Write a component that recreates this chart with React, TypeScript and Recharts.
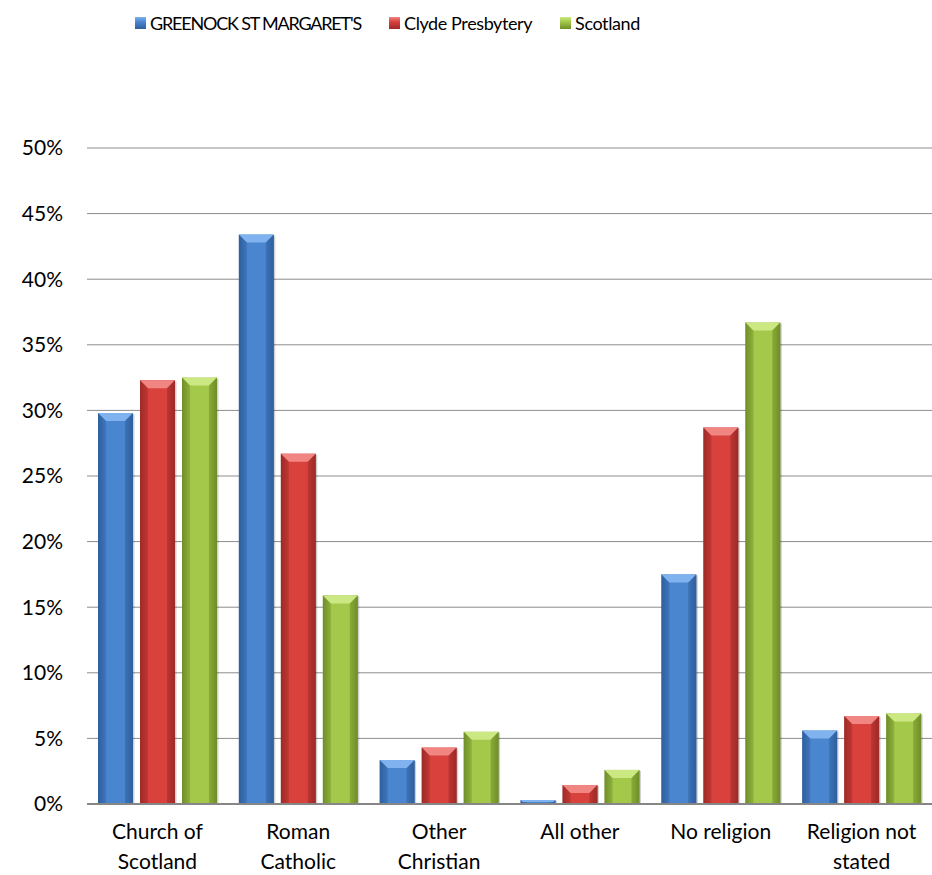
import React from 'react';
import { BarChart, Bar, XAxis, YAxis, CartesianGrid, Legend } from 'recharts';

const categories = [
  'Church of Scotland',
  'Roman Catholic',
  'Other Christian',
  'All other',
  'No religion',
  'Religion not stated',
];

// how each category label wraps under the axis
const tickLines: string[][] = [
  ['Church of', 'Scotland'],
  ['Roman', 'Catholic'],
  ['Other', 'Christian'],
  ['All other'],
  ['No religion'],
  ['Religion not', 'stated'],
];

const greenock = [29.8, 43.4, 3.35, 0.3, 17.5, 5.6];
const clyde = [32.3, 26.7, 4.3, 1.45, 28.7, 6.7];
const scotland = [32.5, 15.9, 5.5, 2.6, 36.7, 6.9];

const yTicks = [0, 5, 10, 15, 20, 25, 30, 35, 40, 45, 50];

const seriesInfo = [
  { key: 'greenock', name: "GREENOCK ST MARGARET'S", dark: '#2f5f9e', mid: '#4a86cf', light: '#7fb2ee' },
  { key: 'clyde', name: 'Clyde Presbytery', dark: '#9e2a27', mid: '#d9413d', light: '#f08582' },
  { key: 'scotland', name: 'Scotland', dark: '#6f8e28', mid: '#a3c84a', light: '#cbe882' },
];

const data = categories.map((c, i) => ({
  name: c,
  greenock: greenock[i],
  clyde: clyde[i],
  scotland: scotland[i],
}));

const FONT = 'Lato, "Open Sans", sans-serif';

function makeShape(idx: number) {
  const s = seriesInfo[idx];
  return (props: any) => {
    const { x, y, width, height } = props;
    if (!height || height <= 0) return null;
    const bevel = Math.min(8, height / 2, width / 4);
    return (
      <g>
        <rect x={x + 1.5} y={y + 1} width={width} height={height} fill="rgba(0,0,0,0.18)" />
        <rect x={x} y={y} width={width} height={height} fill={`url(#body-${s.key})`} />
        <polygon
          points={`${x},${y} ${x + width},${y} ${x + width - bevel},${y + bevel} ${x + bevel},${y + bevel}`}
          fill={s.light}
        />
        <polygon
          points={`${x},${y} ${x + bevel},${y + bevel} ${x + bevel},${y + height} ${x},${y + height}`}
          fill={s.dark}
          opacity={0.35}
        />
        <polygon
          points={`${x + width},${y} ${x + width - bevel},${y + bevel} ${x + width - bevel},${y + height} ${x + width},${y + height}`}
          fill={s.dark}
          opacity={0.45}
        />
      </g>
    );
  };
}

const XTick = (props: any) => {
  const { x, payload } = props;
  const lines = tickLines[payload.index] || [payload.value];
  return (
    <g>
      {lines.map((l, i) => (
        <text
          key={i}
          x={x}
          y={839 + i * 30}
          textAnchor="middle"
          fontFamily={FONT}
          fontSize={21}
          fill="#000"
        >
          {l}
        </text>
      ))}
    </g>
  );
};

const LegendContent = () => (
  <div
    style={{
      height: 40,
      display: 'flex',
      justifyContent: 'flex-start',
      alignItems: 'center',
      paddingLeft: 135,
      fontFamily: FONT,
      fontSize: 18,
      color: '#000',
    }}
  >
    {seriesInfo.map((s, i) => (
      <div key={s.key} style={{ display: 'flex', alignItems: 'center', marginRight: 28 }}>
        <div
          style={{
            width: 11,
            height: 12,
            marginRight: 4,
            background: `linear-gradient(to bottom, ${s.light} 0%, ${s.mid} 40%, ${s.dark} 100%)`,
          }}
        />
        <span style={{ letterSpacing: i === 0 ? -1.2 : -0.4 }}>{s.name}</span>
      </div>
    ))}
  </div>
);

export default function App() {
  return (
    <div style={{ position: 'absolute', left: 0, top: 0, background: '#fff' }}>
      <BarChart
        width={932}
        height={875}
        data={data}
        margin={{ top: 108, right: 0, bottom: 0, left: 0 }}
        barCategoryGap={11}
        barGap={7}
      >
        <defs>
          {seriesInfo.map((s) => (
            <linearGradient key={s.key} id={`body-${s.key}`} x1="0" y1="0" x2="1" y2="0">
              <stop offset="0%" stopColor={s.dark} />
              <stop offset="25%" stopColor={s.mid} />
              <stop offset="75%" stopColor={s.mid} />
              <stop offset="100%" stopColor={s.dark} />
            </linearGradient>
          ))}
        </defs>
        <CartesianGrid vertical={false} stroke="#8c8c8c" strokeWidth={1} />
        <XAxis
          dataKey="name"
          height={71}
          interval={0}
          tickLine={false}
          axisLine={{ stroke: '#868686', strokeWidth: 2 }}
          tick={<XTick />}
        />
        <YAxis
          width={87}
          domain={[0, 50]}
          ticks={yTicks}
          tickFormatter={(v: number) => `${v}%`}
          axisLine={false}
          tickLine={false}
          tickMargin={18}
          tick={{ fontFamily: FONT, fontSize: 21, fill: '#000' }}
        />
        <Legend
          verticalAlign="top"
          content={<LegendContent />}
          wrapperStyle={{ top: 3, left: 0, width: 932 }}
        />
        {seriesInfo.map((s, i) => (
          <Bar
            key={s.key}
            dataKey={s.key}
            name={s.name}
            fill={s.mid}
            shape={makeShape(i)}
            isAnimationActive={false}
          />
        ))}
      </BarChart>
    </div>
  );
}
